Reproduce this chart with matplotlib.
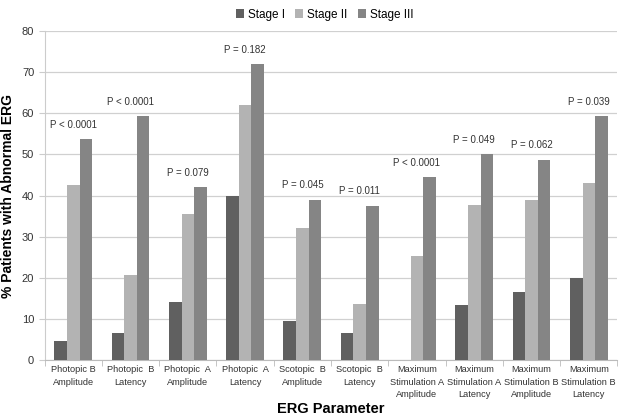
import numpy as np
import matplotlib
matplotlib.use("Agg")
import matplotlib.pyplot as plt

plt.rcParams['font.family'] = ['Liberation Sans', 'DejaVu Sans']

# ERG parameters (x categories)
params = ["Photopic B\nAmplitude", "Photopic  B\nLatency", "Photopic  A\nAmplitude",
          "Photopic  A\nLatency", "Scotopic  B\nAmplitude", "Scotopic  B\nLatency",
          "Maximum\nStimulation A\nAmplitude", "Maximum\nStimulation A\nLatency",
          "Maximum\nStimulation B\nAmplitude", "Maximum\nStimulation B\nLatency"]

stage1 = [4.7, 6.6, 14.2, 40.0, 9.4, 6.6, 0.0, 13.3, 16.6, 20.0]
stage2 = [42.5, 20.7, 35.5, 62.0, 32.0, 13.7, 25.3, 37.8, 38.8, 43.1]
stage3 = [53.7, 59.3, 42.0, 71.9, 39.0, 37.5, 44.4, 50.0, 48.7, 59.3]

p_labels = ["P < 0.0001", "P < 0.0001", "P = 0.079", "P = 0.182", "P = 0.045",
            "P = 0.011", "P < 0.0001", "P = 0.049", "P = 0.062", "P = 0.039"]

series = [("Stage I", stage1, "#606060"),
          ("Stage II", stage2, "#b3b3b3"),
          ("Stage III", stage3, "#858585")]

fig = plt.figure(figsize=(6.24, 4.2), dpi=100)
ax = fig.add_axes([0.0715, 0.143, 0.918, 0.783])

x = np.arange(len(params))
w = 0.22
for i, (name, vals, col) in enumerate(series):
    ax.bar(x + (i - 1) * w, vals, width=w, color=col, label=name, zorder=3)

# p-value annotations above each group
for xi, lab, a, b, c in zip(x, p_labels, stage1, stage2, stage3):
    top = max(a, b, c)
    ax.text(xi, top + 3.5, lab, ha='center', va='center', fontsize=7, color='#333333')

ax.set_xlim(-0.5, len(params) - 0.5)
ax.set_ylim(0, 80)
ax.set_yticks(range(0, 81, 10))
ax.yaxis.grid(True, color='#d0d0d0', linewidth=0.9, zorder=0)
ax.set_axisbelow(True)

ax.set_xticks(x)
ax.set_xticklabels(params, fontsize=6.7, color='#333333', linespacing=1.45)
ax.tick_params(axis='x', which='major', length=0, pad=4)
ax.set_xticks(np.arange(-0.5, len(params), 1.0), minor=True)
ax.tick_params(axis='x', which='minor', length=4, color='#bbbbbb', direction='out')
ax.tick_params(axis='y', labelsize=8, length=4, color='#cccccc', labelcolor='#333333')

for s in ['top', 'right']:
    ax.spines[s].set_visible(False)
ax.spines['left'].set_color('#cccccc')
ax.spines['bottom'].set_color('#bbbbbb')

ax.set_ylabel("% Patients with Abnormal ERG", fontsize=10, fontweight='bold')
ax.yaxis.set_label_coords(-0.052, 0.5)
ax.set_xlabel("ERG Parameter", fontsize=10.5, fontweight='bold')
ax.xaxis.set_label_coords(0.5, -0.127)

fig.legend(loc='center', bbox_to_anchor=(0.52, 0.965), ncol=3, frameon=False,
           fontsize=8.5, handlelength=0.7, handleheight=0.7, handletextpad=0.3,
           columnspacing=0.9)

fig.savefig("out.png", dpi=100)
